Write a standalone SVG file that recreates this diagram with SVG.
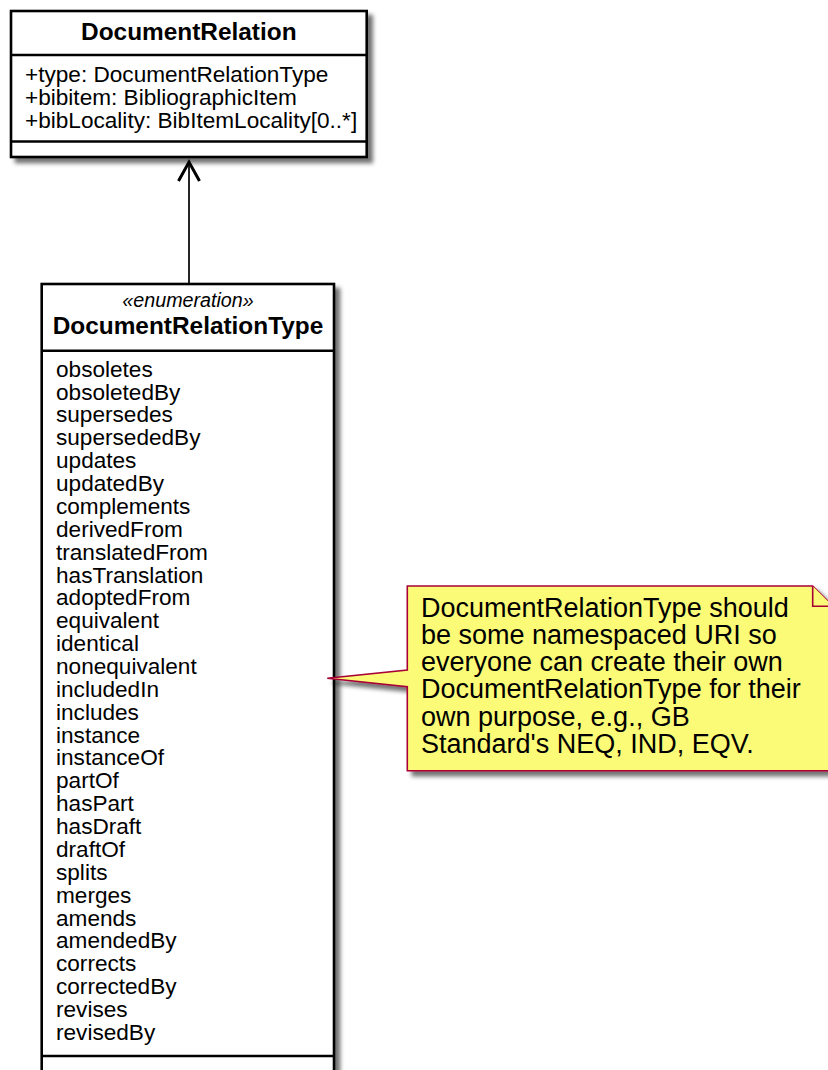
<svg xmlns="http://www.w3.org/2000/svg" width="828" height="1070" viewBox="0 0 828 1070">
<style>
text{font-family:"Liberation Sans",Arial,sans-serif;fill:#000}
.title{font-size:24.4px;font-weight:bold;text-anchor:middle}
.stereo{font-size:19.7px;font-style:italic;text-anchor:middle}
.attr{font-size:22.6px}
.note{font-size:27px}
.box{fill:#fff;stroke:#000;stroke-width:2.6}
.sep{stroke:#000;stroke-width:2.6}
.notebox{fill:#FBFB77;stroke:#A80036;stroke-width:1.6}
.edge{stroke:#000;stroke-width:1.7;fill:none}
.head{stroke:#000;stroke-width:3;fill:none;stroke-linejoin:miter}
</style>
<defs>
<filter id="shadow" x="-10%" y="-10%" width="130%" height="130%">
<feGaussianBlur in="SourceAlpha" stdDeviation="2.2"/>
<feOffset dx="5" dy="5" result="b"/>
<feColorMatrix in="b" type="matrix" values="0 0 0 0 0  0 0 0 0 0  0 0 0 0 0  0 0 0 0.55 0" result="s"/>
<feMerge><feMergeNode in="s"/><feMergeNode in="SourceGraphic"/></feMerge>
</filter>
</defs>
<g id="connectors">
<line class="edge" x1="189" y1="162" x2="189" y2="284"/>
<polyline class="head" points="178.5,181 189,162 199.5,181"/>
</g>
<g id="DocumentRelation">
<rect class="box" x="11" y="11" width="355.7" height="146" filter="url(#shadow)"/>
<line class="sep" x1="11" y1="55" x2="366.7" y2="55"/>
<line class="sep" x1="11" y1="141.5" x2="366.7" y2="141.5"/>
<text class="title" x="188.8" y="39.5">DocumentRelation</text>
<text class="attr" x="25" y="81.7">+type: DocumentRelationType</text>
<text class="attr" x="25" y="104.6">+bibitem: BibliographicItem</text>
<text class="attr" x="25" y="127.5">+bibLocality: BibItemLocality[0..*]</text>
</g>
<g id="DocumentRelationType">
<rect class="box" x="41.7" y="284" width="292.3" height="810" filter="url(#shadow)"/>
<line class="sep" x1="41.7" y1="350.7" x2="334" y2="350.7"/>
<line class="sep" x1="41.7" y1="1056" x2="334" y2="1056"/>
<text class="stereo" x="188" y="307.3">«enumeration»</text>
<text class="title" x="188" y="333.5">DocumentRelationType</text>
<text class="attr" x="56" y="376.7"><tspan x="56">obsoletes</tspan><tspan x="56" dy="22.87">obsoletedBy</tspan><tspan x="56" dy="22.87">supersedes</tspan><tspan x="56" dy="22.87">supersededBy</tspan><tspan x="56" dy="22.87">updates</tspan><tspan x="56" dy="22.87">updatedBy</tspan><tspan x="56" dy="22.87">complements</tspan><tspan x="56" dy="22.87">derivedFrom</tspan><tspan x="56" dy="22.87">translatedFrom</tspan><tspan x="56" dy="22.87">hasTranslation</tspan><tspan x="56" dy="22.87">adoptedFrom</tspan><tspan x="56" dy="22.87">equivalent</tspan><tspan x="56" dy="22.87">identical</tspan><tspan x="56" dy="22.87">nonequivalent</tspan><tspan x="56" dy="22.87">includedIn</tspan><tspan x="56" dy="22.87">includes</tspan><tspan x="56" dy="22.87">instance</tspan><tspan x="56" dy="22.87">instanceOf</tspan><tspan x="56" dy="22.87">partOf</tspan><tspan x="56" dy="22.87">hasPart</tspan><tspan x="56" dy="22.87">hasDraft</tspan><tspan x="56" dy="22.87">draftOf</tspan><tspan x="56" dy="22.87">splits</tspan><tspan x="56" dy="22.87">merges</tspan><tspan x="56" dy="22.87">amends</tspan><tspan x="56" dy="22.87">amendedBy</tspan><tspan x="56" dy="22.87">corrects</tspan><tspan x="56" dy="22.87">correctedBy</tspan><tspan x="56" dy="22.87">revises</tspan><tspan x="56" dy="22.87">revisedBy</tspan></text>
</g>
<g id="note">
<path class="notebox" filter="url(#shadow)" d="M407.3,586 L812.7,586 L833,606.3 L833,770.7 L407.3,770.7 L407.3,686.7 L327.3,678.3 L407.3,670 Z"/>
<path class="notebox" d="M812.7,586 L812.7,606.3 L833,606.3"/>
<text class="note" x="421" y="616.7"><tspan x="421">DocumentRelationType should</tspan><tspan x="421" dy="27.2">be some namespaced URI so</tspan><tspan x="421" dy="27.2">everyone can create their own</tspan><tspan x="421" dy="27.2">DocumentRelationType for their</tspan><tspan x="421" dy="27.2">own purpose, e.g., GB</tspan><tspan x="421" dy="27.2">Standard's NEQ, IND, EQV.</tspan></text>
</g>
</svg>
